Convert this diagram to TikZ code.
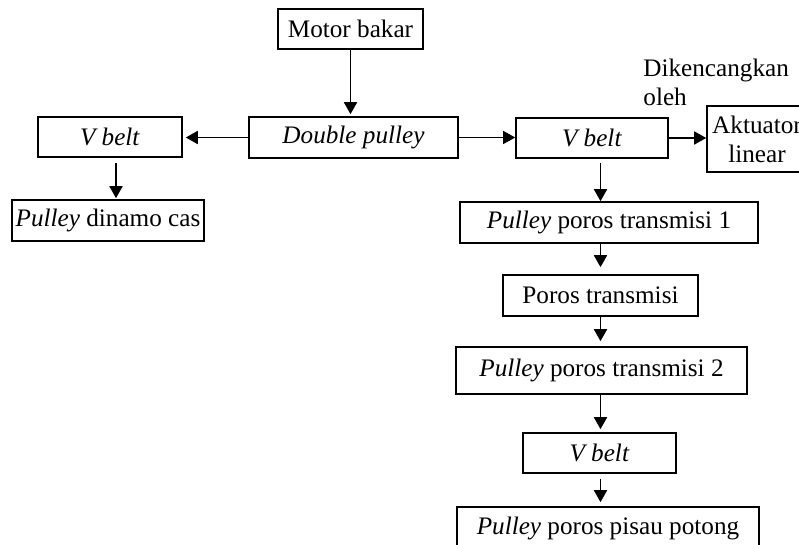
\documentclass[tikz,border=0pt]{standalone}
\usepackage{fontspec}
\setmainfont{Liberation Serif}
\usetikzlibrary{arrows.meta, calc}

\begin{document}
\begin{tikzpicture}[x=0.5pt, y=-0.5pt, >={Triangle[length=6pt, width=6.5pt]},
  every node/.style={font=\fontsize{12.6}{14.5}\selectfont},
  block/.style={draw, line width=0.8pt, inner sep=0pt, align=center},
  link/.style={->, line width=0.9pt}]
  \useasboundingbox (0,0) rectangle (799,545);
  % upper row
  \node[block, minimum width=72.5pt, minimum height=20pt] (motor) at (350.5,29) {Motor bakar};
  \node[block, minimum width=104.5pt, minimum height=20.5pt] (dpulley) at (353.5,137.5) {\textit{Double pulley}};
  \node[block, minimum width=72pt, minimum height=20pt] (vbeltL) at (110,137) {\textit{V belt}};
  \node[block, minimum width=96pt, minimum height=20.5pt] (dinamo) at (108,220.5) {\textit{Pulley} dinamo cas};
  \node[block, minimum width=76pt, minimum height=20pt] (vbeltR) at (592,138) {\textit{V belt}};
  \node[block, minimum width=50pt, minimum height=33pt] (aktuator) at (757,139) {Aktuator\\linear};
  \node[anchor=north west, inner sep=0pt, align=left] (note) at (643,59) {Dikencangkan\\oleh};
  % right column
  \node[block, minimum width=149pt, minimum height=20.5pt] (pt1) at (609,222.5) {\textit{Pulley} poros transmisi 1};
  \node[block, minimum width=97.5pt, minimum height=20.5pt] (poros) at (600.5,295.5) {Poros transmisi};
  \node[block, minimum width=145.5pt, minimum height=23.5pt] (pt2) at (601.5,370.5) {\textit{Pulley} poros transmisi 2};
  \node[block, minimum width=76.5pt, minimum height=20pt] (vbeltB) at (599.5,453) {\textit{V belt}};
  \node[block, minimum width=151pt, minimum height=21pt] (pisau) at (608,528) {\textit{Pulley} poros pisau potong};
  % connectors
  \draw[link, shorten >=1pt] (motor.south) -- (motor.south |- dpulley.north);
  \draw[link, shorten >=1.5pt] (dpulley.west) -- (vbeltL.east |- dpulley.west);
  \draw[link, shorten <=2.5pt, shorten >=0.5pt] ([xshift=3pt]vbeltL.south) -- ([xshift=3pt]vbeltL.south |- dinamo.north);
  \draw[->, line width=0.5pt] (dpulley.east) -- (vbeltR.west |- dpulley.east);
  \draw[link] (vbeltR.east) -- (aktuator.west |- vbeltR.east);
  \draw[link, shorten <=2pt] (vbeltR.south -| poros) -- (pt1.north -| poros);
  \draw[link, shorten >=3.5pt] (pt1.south -| poros) -- (poros.north);
  \draw[link, shorten >=2.5pt] (poros.south) -- (pt2.north -| poros);
  \draw[link, shorten >=1.5pt] (pt2.south -| poros) -- (vbeltB.north -| poros);
  \draw[link, shorten <=2.5pt, shorten >=2pt] (vbeltB.south -| poros) -- (pisau.north -| poros);
\end{tikzpicture}
\end{document}
